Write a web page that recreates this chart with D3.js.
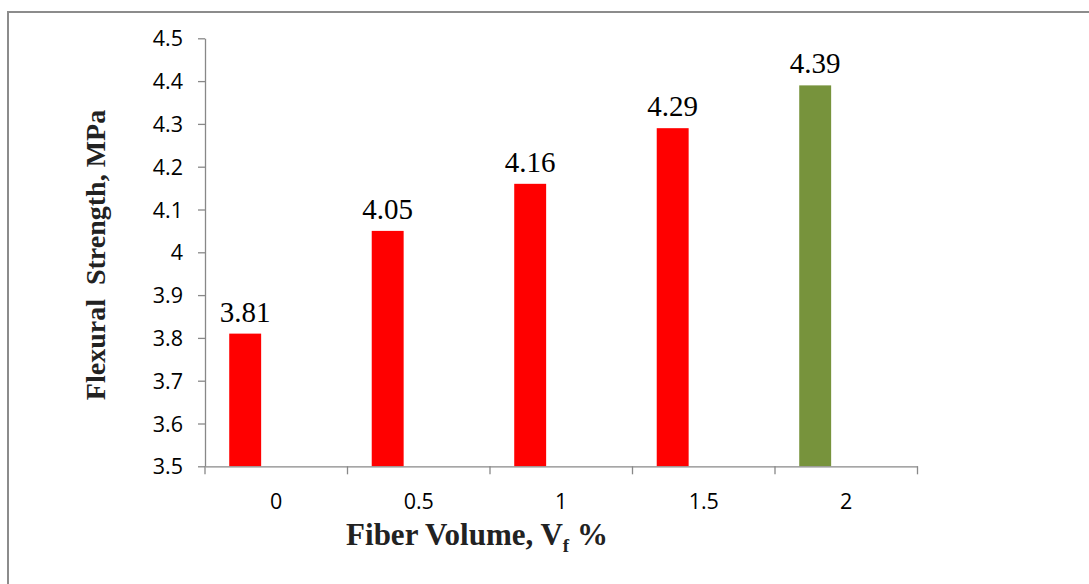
<!DOCTYPE html>
<html>
<head>
<meta charset="utf-8">
<script src="https://cdn.jsdelivr.net/npm/d3@7"></script>
<style>
  html, body { margin: 0; padding: 0; background: #fff; }
  svg { display: block; }
</style>
</head>
<body>
<div id="chart"></div>
<script>
const categories = ["0", "0.5", "1", "1.5", "2"];
const values = [3.81, 4.05, 4.16, 4.29, 4.39];
const barColors = ["#FF0000", "#FF0000", "#FF0000", "#FF0000", "#77933C"];
const yTicks = [3.5, 3.6, 3.7, 3.8, 3.9, 4.0, 4.1, 4.2, 4.3, 4.4, 4.5];

(function () {
const W = 1089, H = 584;
const svg = d3.select("#chart").append("svg").attr("width", W).attr("height", H);

// outer frame (right/bottom edges fall outside the view)
svg.append("rect").attr("x", 8).attr("y", 12).attr("width", W + 20).attr("height", H + 20)
  .attr("fill", "none").attr("stroke", "#8c8c8c").attr("stroke-width", 2);

const pLeft = 205, pRight = 917.5, pTop = 38.3, pBottom = 466.3;
const x = d3.scaleBand().domain(categories).range([pLeft, pRight]).padding(0);
const y = d3.scaleLinear().domain([3.5, 4.5]).range([pBottom, pTop]);
const axisColor = "#888888";
const tickFont = "'Open Sans', Lato, sans-serif";
const serif = "'Liberation Serif', 'Times New Roman', serif";

// bars
const bw = x.bandwidth();
svg.selectAll("rect.bar").data(values).enter().append("rect")
  .attr("class", "bar")
  .attr("x", (d, i) => x(categories[i]) + bw * 0.17)
  .attr("width", bw * 0.224)
  .attr("y", d => y(d))
  .attr("height", d => y(3.5) - y(d))
  .attr("fill", (d, i) => barColors[i]);

// data labels
svg.selectAll("text.val").data(values).enter().append("text")
  .attr("x", (d, i) => x(categories[i]) + bw * 0.17 + bw * 0.112)
  .attr("y", d => y(d) - 12)
  .attr("text-anchor", "middle")
  .attr("font-family", serif)
  .attr("font-size", 29)
  .attr("fill", "#000")
  .text(d => d.toFixed(2));

// y axis
const yAxis = d3.axisLeft(y).tickValues(yTicks).tickSize(7).tickSizeOuter(0)
  .tickFormat(d => d3.format("")(+d.toFixed(1)));
const gy = svg.append("g").attr("transform", `translate(${pLeft},0)`).call(yAxis);
gy.select(".domain").attr("stroke", axisColor).attr("stroke-width", 1.3);
gy.selectAll(".tick line").attr("stroke", axisColor).attr("stroke-width", 1.3);
gy.selectAll(".tick text").attr("x", -22).attr("dy", "0.35em").attr("font-family", tickFont)
  .attr("font-size", 21.5).attr("fill", "#000");

// x axis
const xAxis = d3.axisBottom(x).tickSize(0).tickSizeOuter(0);
const gx = svg.append("g").attr("transform", `translate(0,${pBottom})`).call(xAxis);
gx.select(".domain").attr("stroke", axisColor).attr("stroke-width", 1.3);
gx.selectAll(".tick text").attr("y", 43).attr("dy", 0)
  .attr("font-family", tickFont).attr("font-size", 21.5).attr("fill", "#000");
// boundary tick marks between categories
const bounds = categories.map(c => x(c)).concat([pRight]);
svg.selectAll("line.xt").data(bounds).enter().append("line")
  .attr("x1", d => d).attr("x2", d => d)
  .attr("y1", pBottom).attr("y2", pBottom + 8)
  .attr("stroke", axisColor).attr("stroke-width", 1.3);

// axis titles
const xt = svg.append("text").attr("x", 477).attr("y", 545).attr("text-anchor", "middle")
  .attr("font-family", serif)
  .attr("font-weight", "bold").attr("font-size", 31).attr("fill", "#222");
xt.append("tspan").text("Fiber Volume, V");
xt.append("tspan").attr("font-size", 19).attr("dy", 7).text("f");
xt.append("tspan").attr("dy", -7).text(" %");

svg.append("text")
  .attr("transform", "translate(105,255) rotate(-90)")
  .attr("text-anchor", "middle")
  .attr("font-family", serif)
  .attr("font-weight", "bold").attr("font-size", 28).attr("fill", "#222")
  .attr("xml:space", "preserve")
  .text("Flexural  Strength, MPa");
})();
</script>
</body>
</html>
